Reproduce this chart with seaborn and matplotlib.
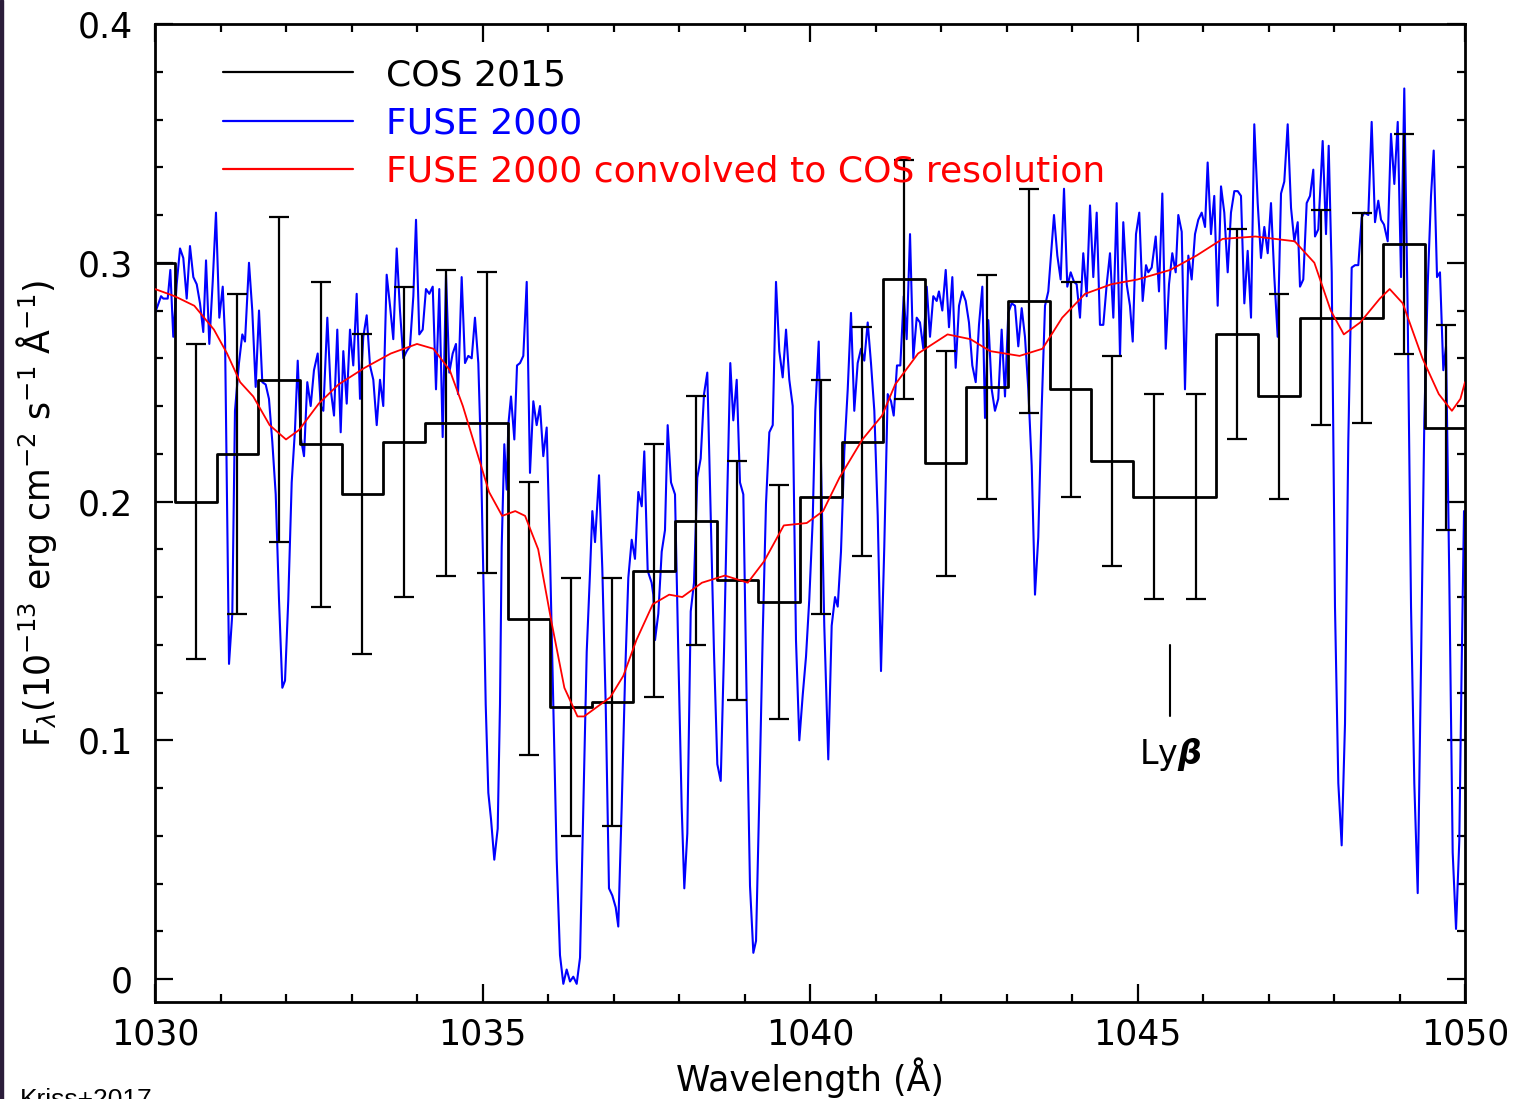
import numpy as np
import pandas as pd
import matplotlib
matplotlib.use("Agg")
import matplotlib.pyplot as plt
from matplotlib.lines import Line2D
from matplotlib.ticker import MultipleLocator
import seaborn as sns

# ---------------- data ----------------
# FUSE 2000 spectrum (wavelength in Angstrom, flux in 1e-13 erg/cm2/s/A)
fuse_wave = [
    1030.000, 1030.041, 1030.092, 1030.127, 1030.194, 1030.234, 1030.279, 1030.331, 1030.382, 1030.432,
    1030.484, 1030.534, 1030.585, 1030.637, 1030.687, 1030.737, 1030.779, 1030.829, 1030.881, 1030.931,
    1030.982, 1031.034, 1031.069, 1031.130, 1031.180, 1031.221, 1031.282, 1031.333, 1031.374, 1031.435,
    1031.485, 1031.537, 1031.588, 1031.638, 1031.690, 1031.740, 1031.791, 1031.843, 1031.893, 1031.944,
    1031.985, 1032.035, 1032.087, 1032.137, 1032.179, 1032.224, 1032.275, 1032.325, 1032.377, 1032.427,
    1032.484, 1032.530, 1032.570, 1032.631, 1032.682, 1032.733, 1032.783, 1032.835, 1032.875, 1032.927,
    1032.977, 1033.027, 1033.079, 1033.130, 1033.180, 1033.232, 1033.282, 1033.333, 1033.385, 1033.435,
    1033.485, 1033.537, 1033.588, 1033.638, 1033.690, 1033.740, 1033.791, 1033.843, 1033.893, 1033.944,
    1033.985, 1034.035, 1034.087, 1034.137, 1034.188, 1034.240, 1034.290, 1034.340, 1034.392, 1034.443,
    1034.493, 1034.545, 1034.595, 1034.626, 1034.682, 1034.733, 1034.783, 1034.835, 1034.885, 1034.936,
    1034.973, 1035.012, 1035.049, 1035.089, 1035.130, 1035.180, 1035.232, 1035.267, 1035.293, 1035.333,
    1035.369, 1035.394, 1035.435, 1035.486, 1035.527, 1035.573, 1035.623, 1035.675, 1035.725, 1035.776,
    1035.827, 1035.878, 1035.928, 1035.980, 1036.031, 1036.081, 1036.133, 1036.183, 1036.234, 1036.285,
    1036.336, 1036.386, 1036.438, 1036.489, 1036.539, 1036.591, 1036.641, 1036.677, 1036.718, 1036.779,
    1036.829, 1036.881, 1036.931, 1036.982, 1037.034, 1037.073, 1037.125, 1037.176, 1037.226, 1037.278,
    1037.328, 1037.379, 1037.431, 1037.470, 1037.522, 1037.582, 1037.608, 1037.634, 1037.684, 1037.736,
    1037.786, 1037.827, 1037.878, 1037.939, 1037.989, 1038.041, 1038.081, 1038.127, 1038.179, 1038.229,
    1038.279, 1038.331, 1038.382, 1038.432, 1038.484, 1038.534, 1038.585, 1038.637, 1038.687, 1038.737,
    1038.783, 1038.829, 1038.881, 1038.931, 1038.982, 1039.034, 1039.084, 1039.135, 1039.176, 1039.226,
    1039.278, 1039.328, 1039.379, 1039.431, 1039.481, 1039.531, 1039.583, 1039.634, 1039.684, 1039.736,
    1039.786, 1039.837, 1039.889, 1039.939, 1039.989, 1040.041, 1040.081, 1040.133, 1040.168, 1040.218,
    1040.279, 1040.331, 1040.382, 1040.423, 1040.473, 1040.524, 1040.576, 1040.626, 1040.676, 1040.728,
    1040.779, 1040.829, 1040.881, 1040.931, 1040.982, 1041.034, 1041.084, 1041.134, 1041.186, 1041.237,
    1041.278, 1041.328, 1041.379, 1041.431, 1041.476, 1041.527, 1041.577, 1041.629, 1041.679, 1041.730,
    1041.782, 1041.832, 1041.882, 1041.934, 1041.969, 1042.020, 1042.072, 1042.122, 1042.173, 1042.224,
    1042.275, 1042.325, 1042.377, 1042.427, 1042.478, 1042.530, 1042.580, 1042.631, 1042.672, 1042.722,
    1042.774, 1042.824, 1042.874, 1042.926, 1042.977, 1043.027, 1043.079, 1043.130, 1043.180, 1043.232,
    1043.282, 1043.333, 1043.385, 1043.435, 1043.485, 1043.537, 1043.588, 1043.638, 1043.725, 1043.776,
    1043.827, 1043.878, 1043.928, 1043.980, 1044.031, 1044.071, 1044.122, 1044.172, 1044.224, 1044.275,
    1044.325, 1044.377, 1044.427, 1044.478, 1044.530, 1044.580, 1044.631, 1044.682, 1044.733, 1044.783,
    1044.835, 1044.885, 1044.927, 1044.977, 1045.027, 1045.079, 1045.130, 1045.165, 1045.217, 1045.278,
    1045.328, 1045.379, 1045.431, 1045.481, 1045.531, 1045.583, 1045.623, 1045.675, 1045.725, 1045.776,
    1045.827, 1045.878, 1045.928, 1045.980, 1046.031, 1046.071, 1046.122, 1046.172, 1046.224, 1046.275,
    1046.325, 1046.377, 1046.427, 1046.478, 1046.530, 1046.580, 1046.631, 1046.682, 1046.733, 1046.783,
    1046.835, 1046.885, 1046.936, 1046.988, 1047.038, 1047.089, 1047.140, 1047.191, 1047.241, 1047.293,
    1047.344, 1047.394, 1047.446, 1047.481, 1047.531, 1047.583, 1047.634, 1047.684, 1047.710, 1047.760,
    1047.827, 1047.878, 1047.919, 1047.965, 1048.015, 1048.066, 1048.117, 1048.168, 1048.218, 1048.270,
    1048.321, 1048.371, 1048.423, 1048.463, 1048.524, 1048.575, 1048.626, 1048.676, 1048.718, 1048.763,
    1048.820, 1048.870, 1048.921, 1048.973, 1049.023, 1049.073, 1049.125, 1049.176, 1049.226, 1049.278,
    1049.328, 1049.379, 1049.431, 1049.481, 1049.522, 1049.573, 1049.618, 1049.669, 1049.710, 1049.760,
    1049.812, 1049.863, 1049.913, 1049.949, 1049.985,
]
fuse_flux = [
    0.279, 0.282, 0.286, 0.285, 0.285, 0.297, 0.269, 0.291, 0.306, 0.302,
    0.285, 0.307, 0.294, 0.291, 0.283, 0.271, 0.301, 0.266, 0.292, 0.321,
    0.277, 0.290, 0.269, 0.132, 0.153, 0.238, 0.258, 0.270, 0.267, 0.300,
    0.280, 0.248, 0.280, 0.250, 0.249, 0.243, 0.225, 0.203, 0.159, 0.122,
    0.125, 0.159, 0.208, 0.230, 0.259, 0.227, 0.219, 0.250, 0.240, 0.255,
    0.262, 0.240, 0.238, 0.277, 0.247, 0.236, 0.272, 0.229, 0.263, 0.241,
    0.272, 0.257, 0.287, 0.243, 0.269, 0.278, 0.257, 0.251, 0.232, 0.251,
    0.240, 0.295, 0.282, 0.268, 0.306, 0.280, 0.260, 0.263, 0.265, 0.286,
    0.318, 0.270, 0.272, 0.289, 0.287, 0.290, 0.247, 0.289, 0.227, 0.295,
    0.254, 0.262, 0.266, 0.245, 0.294, 0.258, 0.261, 0.260, 0.277, 0.258,
    0.223, 0.170, 0.115, 0.078, 0.067, 0.050, 0.063, 0.115, 0.181, 0.224,
    0.205, 0.232, 0.244, 0.226, 0.257, 0.258, 0.261, 0.292, 0.212, 0.242,
    0.232, 0.240, 0.219, 0.231, 0.177, 0.115, 0.050, 0.010, -0.002, 0.004,
    -0.001, 0.001, -0.002, 0.009, 0.072, 0.137, 0.170, 0.196, 0.183, 0.211,
    0.172, 0.115, 0.038, 0.035, 0.030, 0.022, 0.072, 0.126, 0.168, 0.184,
    0.176, 0.204, 0.198, 0.221, 0.171, 0.166, 0.161, 0.142, 0.153, 0.179,
    0.188, 0.232, 0.208, 0.203, 0.137, 0.072, 0.038, 0.061, 0.154, 0.166,
    0.210, 0.218, 0.245, 0.254, 0.194, 0.137, 0.090, 0.083, 0.137, 0.203,
    0.258, 0.234, 0.251, 0.208, 0.203, 0.115, 0.039, 0.011, 0.016, 0.076,
    0.144, 0.199, 0.229, 0.232, 0.292, 0.263, 0.252, 0.272, 0.251, 0.240,
    0.142, 0.100, 0.119, 0.135, 0.159, 0.192, 0.238, 0.267, 0.216, 0.148,
    0.092, 0.148, 0.160, 0.156, 0.179, 0.221, 0.247, 0.279, 0.238, 0.258,
    0.264, 0.259, 0.275, 0.258, 0.238, 0.194, 0.129, 0.181, 0.245, 0.242,
    0.236, 0.257, 0.257, 0.286, 0.268, 0.312, 0.260, 0.277, 0.275, 0.264,
    0.290, 0.269, 0.286, 0.284, 0.288, 0.280, 0.297, 0.273, 0.294, 0.256,
    0.282, 0.288, 0.284, 0.275, 0.257, 0.250, 0.274, 0.290, 0.235, 0.276,
    0.247, 0.238, 0.243, 0.272, 0.244, 0.279, 0.283, 0.282, 0.265, 0.281,
    0.269, 0.247, 0.215, 0.161, 0.185, 0.239, 0.282, 0.288, 0.320, 0.303,
    0.293, 0.331, 0.290, 0.296, 0.292, 0.291, 0.277, 0.304, 0.286, 0.324,
    0.294, 0.321, 0.274, 0.274, 0.291, 0.304, 0.277, 0.325, 0.261, 0.317,
    0.291, 0.282, 0.267, 0.312, 0.321, 0.284, 0.299, 0.296, 0.298, 0.311,
    0.288, 0.329, 0.264, 0.291, 0.304, 0.296, 0.320, 0.313, 0.247, 0.303,
    0.293, 0.312, 0.318, 0.321, 0.315, 0.342, 0.312, 0.328, 0.282, 0.332,
    0.321, 0.296, 0.321, 0.330, 0.330, 0.328, 0.283, 0.305, 0.277, 0.358,
    0.325, 0.302, 0.315, 0.304, 0.325, 0.294, 0.269, 0.329, 0.334, 0.358,
    0.323, 0.309, 0.317, 0.290, 0.293, 0.325, 0.328, 0.339, 0.311, 0.314,
    0.351, 0.312, 0.349, 0.296, 0.156, 0.082, 0.056, 0.107, 0.225, 0.298,
    0.299, 0.299, 0.319, 0.321, 0.320, 0.359, 0.317, 0.326, 0.318, 0.316,
    0.309, 0.354, 0.333, 0.359, 0.294, 0.373, 0.279, 0.156, 0.082, 0.036,
    0.131, 0.234, 0.291, 0.328, 0.347, 0.294, 0.296, 0.255, 0.265, 0.168,
    0.053, 0.021, 0.058, 0.131, 0.196,
]

# FUSE 2000 smoothed to the COS line spread function
conv_wave = [
    1030.00, 1030.30, 1030.60, 1030.90, 1031.10, 1031.30, 1031.50, 1031.75, 1032.00, 1032.20,
    1032.50, 1032.80, 1033.20, 1033.60, 1034.00, 1034.25, 1034.50, 1034.70, 1034.90, 1035.10,
    1035.30, 1035.50, 1035.65, 1035.85, 1036.05, 1036.25, 1036.45, 1036.55, 1036.70, 1036.95,
    1037.15, 1037.35, 1037.60, 1037.85, 1038.05, 1038.35, 1038.70, 1039.05, 1039.30, 1039.60,
    1039.95, 1040.20, 1040.45, 1040.80, 1041.10, 1041.30, 1041.65, 1042.10, 1042.45, 1042.75,
    1043.20, 1043.55, 1043.85, 1044.20, 1044.60, 1045.00, 1045.50, 1045.90, 1046.30, 1046.80,
    1047.40, 1047.70, 1047.95, 1048.15, 1048.40, 1048.70, 1048.85, 1049.05, 1049.35, 1049.60,
    1049.80, 1049.93, 1050.00,
]
conv_flux = [
    0.289, 0.286, 0.282, 0.272, 0.262, 0.250, 0.244, 0.232, 0.226, 0.230,
    0.241, 0.249, 0.256, 0.262, 0.266, 0.264, 0.255, 0.240, 0.222, 0.204,
    0.194, 0.196, 0.194, 0.180, 0.150, 0.122, 0.110, 0.110, 0.113, 0.118,
    0.127, 0.142, 0.157, 0.161, 0.160, 0.166, 0.169, 0.166, 0.175, 0.190,
    0.191, 0.196, 0.210, 0.226, 0.236, 0.249, 0.262, 0.270, 0.268, 0.263,
    0.261, 0.264, 0.277, 0.287, 0.291, 0.293, 0.297, 0.303, 0.310, 0.311,
    0.309, 0.300, 0.280, 0.270, 0.275, 0.285, 0.289, 0.283, 0.260, 0.245,
    0.238, 0.243, 0.250,
]

# COS 2015 binned spectrum: bin edges, binned flux and 1-sigma errors
cos_edges = [
    1029.669, 1030.305, 1030.941, 1031.577, 1032.213, 1032.849, 1033.485, 1034.121, 1034.757, 1035.393,
    1036.029, 1036.665, 1037.301, 1037.937, 1038.573, 1039.209, 1039.845, 1040.481, 1041.117, 1041.753,
    1042.389, 1043.025, 1043.661, 1044.297, 1044.933, 1045.569, 1046.205, 1046.841, 1047.477, 1048.113,
    1048.749, 1049.385, 1050.021,
]
cos_flux = [
    0.300, 0.200, 0.220, 0.251, 0.224, 0.203, 0.225, 0.233, 0.233, 0.151,
    0.114, 0.116, 0.171, 0.192, 0.167, 0.158, 0.202, 0.225, 0.293, 0.216,
    0.248, 0.284, 0.247, 0.217, 0.202, 0.202, 0.270, 0.244, 0.277, 0.277,
    0.308, 0.231,
]
cos_err = [
    0.066, 0.066, 0.067, 0.068, 0.068, 0.067, 0.065, 0.064, 0.063, 0.057,
    0.054, 0.052, 0.053, 0.052, 0.050, 0.049, 0.049, 0.048, 0.050, 0.047,
    0.047, 0.047, 0.045, 0.044, 0.043, 0.043, 0.044, 0.043, 0.045, 0.044,
    0.046, 0.043,
]

# Lyman beta marker
lyb_wave = 1045.5
lyb_tick = [0.110, 0.140]
lyb_label_y = 0.094

legend_labels = ["COS 2015", "FUSE 2000", "FUSE 2000 convolved to COS resolution"]
series_colors = ["black", "#0000ff", "#ff0000"]

# ---------------- style ----------------
sns.set_theme(style="ticks")
plt.rcParams["font.family"] = ["DejaVu Sans"]
plt.rcParams["mathtext.fontset"] = "dejavusans"
plt.rcParams["axes.linewidth"] = 2.0

fig = plt.figure(figsize=(15.14, 10.99), dpi=100)
fig.patch.set_facecolor("white")
ax = fig.add_axes([155 / 1514, 1 - 1002 / 1099, (1465 - 155) / 1514, (1002 - 24) / 1099])
ax.set_facecolor("white")

fuse_df = pd.DataFrame({"wave": fuse_wave, "flux": fuse_flux})
conv_df = pd.DataFrame({"wave": conv_wave, "flux": conv_flux})
centers = [(a + b) / 2 for a, b in zip(cos_edges[:-1], cos_edges[1:])]
cos_df = pd.DataFrame({"wave": cos_edges, "flux": cos_flux + [cos_flux[-1]]})

# COS step spectrum
sns.lineplot(data=cos_df, x="wave", y="flux", ax=ax, color=series_colors[0],
             lw=2.0, drawstyle="steps-post", estimator=None, sort=False, zorder=3)
ax.errorbar(centers[1:], cos_flux[1:], yerr=cos_err[1:], fmt="none",
            ecolor="black", elinewidth=1.6, capsize=7.5, capthick=1.6, zorder=3)

# FUSE spectrum and its convolved version
sns.lineplot(data=fuse_df, x="wave", y="flux", ax=ax, color=series_colors[1],
             lw=1.5, estimator=None, sort=False, zorder=2)
sns.lineplot(data=conv_df, x="wave", y="flux", ax=ax, color=series_colors[2],
             lw=1.3, estimator=None, sort=False, zorder=4)

# Ly-beta marker
ax.plot([lyb_wave, lyb_wave], lyb_tick, color="black", lw=1.5)
ax.text(lyb_wave, lyb_label_y, r"Ly$\boldsymbol{\beta}$", ha="center", va="center",
        fontsize=24, color="black")

# axes
ax.set_xlim(1030, 1050)
ax.set_ylim(-0.0096, 0.4)
ax.xaxis.set_major_locator(MultipleLocator(5))
ax.xaxis.set_minor_locator(MultipleLocator(1))
ax.yaxis.set_major_locator(MultipleLocator(0.1))
ax.yaxis.set_minor_locator(MultipleLocator(0.02))
ax.set_yticks([0, 0.1, 0.2, 0.3, 0.4])
ax.set_yticklabels(["0", "0.1", "0.2", "0.3", "0.4"])
ax.tick_params(which="both", direction="in", top=True, right=True, colors="black",
               labelsize=25, width=1.6)
ax.tick_params(which="major", length=13)
ax.tick_params(which="minor", length=6)
ax.tick_params(axis="y", pad=16)
ax.tick_params(axis="x", pad=11)
for s in ax.spines.values():
    s.set_color("black")
    s.set_linewidth(2.0)

ax.set_xlabel("Wavelength (Å)", fontsize=25, labelpad=4, color="black")
ax.set_ylabel(r"F$_\lambda$(10$^{-13}$ erg cm$^{-2}$ s$^{-1}$ Å$^{-1}$)", fontsize=25,
              labelpad=13, color="black")

# legend
handles = [Line2D([], [], color=c, lw=1.6) for c in series_colors]
leg = ax.legend(handles, legend_labels, loc="upper left", bbox_to_anchor=(0.041, 0.98),
                frameon=False, fontsize=26, handlelength=3.6, handletextpad=0.9,
                labelspacing=0.4, labelcolor="linecolor", borderaxespad=0)

# credit and left border
fig.text(20 / 1514, -0.007, "Kriss+2017", fontsize=19, family="Liberation Sans",
         ha="left", va="baseline", color="black")
fig.add_artist(plt.Rectangle((0, 0), 2.5 / 1514, 1, transform=fig.transFigure,
                             color="#2b1d3a", zorder=10))

fig.savefig("out.png", dpi=100, facecolor="white")
